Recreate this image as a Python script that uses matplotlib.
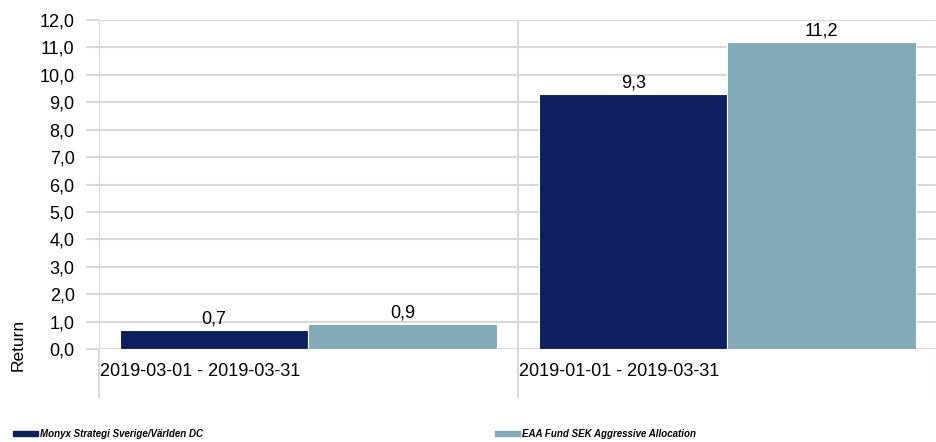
import matplotlib
matplotlib.use("Agg")
import matplotlib.pyplot as plt
import numpy as np
from matplotlib.patches import Patch
from matplotlib.transforms import blended_transform_factory

periods = ["2019-03-01 - 2019-03-31", "2019-01-01 - 2019-03-31"]
series_names = ["Monyx Strategi Sverige/Världen DC", "EAA Fund SEK Aggressive Allocation"]
monyx = [0.7, 9.3]
eaa = [0.9, 11.2]
y_ticks = [0, 1, 2, 3, 4, 5, 6, 7, 8, 9, 10, 11, 12]

DARK = "#0c1f5e"
LIGHT = "#82aabb"
GRID = "#d9d9d9"
FONT = ["Liberation Sans", "DejaVu Sans"]
LEG_FONT = ["Liberation Sans Narrow", "Liberation Sans", "DejaVu Sans"]

W, H = 937, 442
CAT_PX = 424  # pixel width of one category slot
fig = plt.figure(figsize=(W / 100, H / 100), dpi=100)
ax = fig.add_axes([99 / W, 1 - 349 / H, (W - 99) / W, 329 / H])

x = np.arange(len(periods))
bw = 191 / CAT_PX
ax.bar(x - bw / 2, monyx, bw, color=DARK, edgecolor="white", linewidth=0.8, zorder=3)
ax.bar(x + bw / 2, eaa, bw, color=LIGHT, edgecolor="white", linewidth=0.8, zorder=3)

for xs, vals in ((x - bw / 2, monyx), (x + bw / 2, eaa)):
    for xi, v in zip(xs, vals):
        ax.annotate(f"{v:.1f}".replace(".", ","), (xi, v), xytext=(0, 2),
                    textcoords="offset points", ha="center", va="bottom",
                    fontsize=13, family=FONT, color="#000000")

ax.set_xlim(-0.5, -0.5 + (W - 99) / CAT_PX)
ax.set_ylim(0, 12)
ax.set_yticks(y_ticks)
ax.set_yticklabels([f"{t:.1f}".replace(".", ",") for t in y_ticks], fontsize=13, family=FONT)
ax.grid(axis="y", color=GRID, linewidth=1.5, zorder=0)
ax.tick_params(axis="y", length=9.5, width=1.5, color=GRID, pad=8)

# category boundaries: vertical lines that run below the axis
bounds = np.arange(len(periods) + 1) - 0.5
for b in bounds:
    ax.axvline(b, color=GRID, linewidth=1.5, zorder=1)
ax.set_xticks(bounds)
ax.set_xticklabels([])
ax.tick_params(axis="x", length=35, width=1.5, color=GRID)

tr = blended_transform_factory(ax.transData, ax.transAxes)
for b, lab in zip(bounds[:-1], periods):
    ax.text(b + 0.003, -23 / 329, lab, transform=tr, ha="left", va="center",
            fontsize=13, family=FONT)

for s in ax.spines.values():
    s.set_visible(False)

fig.text(18 / W, 1 - 345 / H, "Return", rotation=90, ha="center", va="center",
         fontsize=12.5, family=FONT)

for name, col, xpos in zip(series_names, [DARK, LIGHT], [4 / W, 486 / W]):
    fig.legend(handles=[Patch(facecolor=col, edgecolor=col, label=name)],
               loc="center left", bbox_to_anchor=(xpos, 1 - 434 / H), frameon=False,
               handlelength=2.6, handleheight=0.55, handletextpad=0.2,
               prop={"family": LEG_FONT, "weight": "bold", "style": "italic", "size": 7})

fig.savefig("out.png", dpi=100)
